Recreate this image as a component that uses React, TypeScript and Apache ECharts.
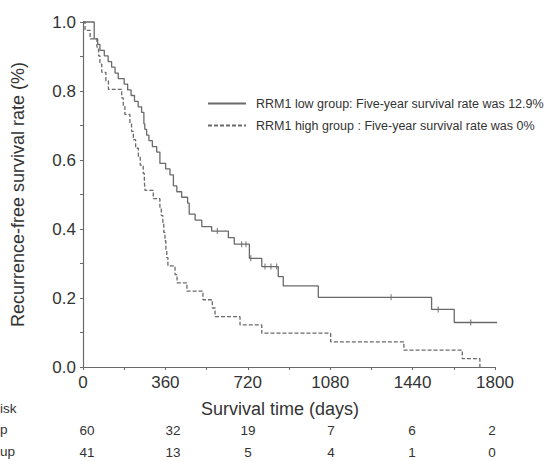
import React, { useEffect, useRef } from "react";
import * as echarts from "echarts";

const lowName = "RRM1 low group: Five-year survival rate was 12.9%";
const highName = "RRM1 high group : Five-year survival rate was 0%";

// Kaplan–Meier steps: [day, survival]
const lowSteps: [number, number][] = [
  [0, 1], [49, 0.951], [64, 0.935], [74, 0.918], [93, 0.902], [110, 0.885], [125, 0.869],
  [140, 0.852], [154, 0.836], [180, 0.82], [195, 0.803], [210, 0.787], [225, 0.77],
  [241, 0.754], [256, 0.738], [266, 0.705], [270, 0.689], [278, 0.672], [288, 0.656],
  [303, 0.639], [322, 0.623], [336, 0.59], [361, 0.574], [380, 0.557], [395, 0.525],
  [410, 0.508], [431, 0.492], [457, 0.475], [464, 0.443], [490, 0.426], [519, 0.407],
  [562, 0.394], [635, 0.375], [661, 0.356], [727, 0.315], [781, 0.291], [853, 0.262],
  [875, 0.235], [1028, 0.202], [1523, 0.167], [1622, 0.129], [1848, 0.129],
];
const lowCensored: [number, number][] = [
  [587, 0.394], [693, 0.356], [712, 0.356], [733, 0.315], [795, 0.291], [821, 0.291],
  [846, 0.291], [1346, 0.202], [1552, 0.167], [1694, 0.129],
];
const highSteps: [number, number][] = [
  [0, 1], [9, 0.976], [31, 0.951], [61, 0.927], [68, 0.902], [74, 0.878], [82, 0.854],
  [100, 0.829], [111, 0.805], [169, 0.78], [176, 0.756], [183, 0.732], [205, 0.707],
  [212, 0.683], [220, 0.659], [230, 0.634], [242, 0.61], [250, 0.585], [263, 0.561],
  [268, 0.537], [271, 0.512], [307, 0.488], [336, 0.463], [342, 0.439], [349, 0.415],
  [353, 0.39], [358, 0.366], [362, 0.341], [366, 0.317], [371, 0.293], [402, 0.268],
  [411, 0.244], [454, 0.22], [524, 0.195], [565, 0.171], [577, 0.146], [686, 0.122],
  [781, 0.098], [1082, 0.073], [1402, 0.049], [1657, 0.024], [1734, 0],
];

const riskLowLabel = "p";
const riskHighLabel = "up";
const riskHeader = "isk";
const riskLow = ["60", "32", "19", "7", "6", "2"];
const riskHigh = ["41", "13", "5", "4", "1", "0"];

const xTitle = "Survival time (days)";
const yTitle = "Recurrence-free survival rate (%)";

// layout (not data)
const riskColX = [87, 173, 248, 331, 412, 492];
const FONT = "Liberation Sans, Arial, sans-serif";
const LINE = "#6a6a6a";
const TEXT = "#333";

export default function App() {
  const ref = useRef<HTMLDivElement>(null);
  useEffect(() => {
    if (!ref.current) return;
    const chart = echarts.init(ref.current, null, { renderer: "svg" });
    const graphics: any[] = [];
    const rowY = [409, 430, 452];
    const f = `13.5px ${FONT}`;
    graphics.push({ type: "text", left: 0, top: rowY[0] - 8, style: { text: riskHeader, font: f, fill: TEXT } });
    graphics.push({ type: "text", left: 0, top: rowY[1] - 8, style: { text: riskLowLabel, font: f, fill: TEXT } });
    graphics.push({ type: "text", left: 0, top: rowY[2] - 8, style: { text: riskHighLabel, font: f, fill: TEXT } });
    riskLow.forEach((t, i) => {
      graphics.push({ type: "text", x: riskColX[i], y: rowY[1], style: { text: t, font: f, fill: TEXT, align: "center", verticalAlign: "middle" } });
    });
    riskHigh.forEach((t, i) => {
      graphics.push({ type: "text", x: riskColX[i], y: rowY[2], style: { text: t, font: f, fill: TEXT, align: "center", verticalAlign: "middle" } });
    });

    chart.setOption({
      animation: false,
      backgroundColor: "#fff",
      grid: { left: 83, right: 60, top: 22, bottom: 94, containLabel: false },
      legend: {
        data: [lowName, highName],
        orient: "vertical",
        left: 202,
        top: 92,
        itemWidth: 38,
        itemHeight: 14,
        itemGap: 9,
        itemStyle: { opacity: 0 },
        textStyle: { fontFamily: FONT, fontSize: 12.5, color: TEXT, padding: [0, 0, 0, 5] },
      },
      xAxis: {
        type: "value",
        min: 0,
        max: 1800,
        interval: 360,
        name: xTitle,
        nameLocation: "middle",
        nameGap: 33,
        nameTextStyle: { fontFamily: FONT, fontSize: 18, color: TEXT, padding: [0, 18, 0, 0] },
        axisLine: { show: true, lineStyle: { color: LINE, width: 1.2 } },
        axisTick: { show: true, inside: false, length: 3, lineStyle: { color: LINE } },
        minorTick: { show: true, splitNumber: 2, length: 3, lineStyle: { color: LINE } },
        axisLabel: { fontFamily: FONT, fontSize: 17, color: TEXT, margin: 7, formatter: (v: number) => String(v) },
        splitLine: { show: false },
      },
      yAxis: {
        type: "value",
        min: 0,
        max: 1,
        interval: 0.2,
        name: yTitle,
        nameLocation: "middle",
        nameGap: 56,
        nameTextStyle: { fontFamily: FONT, fontSize: 18, color: TEXT },
        axisLine: { show: true, lineStyle: { color: LINE, width: 1.2 } },
        axisTick: { show: true, inside: false, length: 3, lineStyle: { color: LINE } },
        minorTick: { show: true, splitNumber: 2, length: 3, lineStyle: { color: LINE } },
        axisLabel: { fontFamily: FONT, fontSize: 17, color: TEXT, margin: 7, formatter: (v: number) => v.toFixed(1) },
        splitLine: { show: false },
      },
      series: [
        {
          name: lowName,
          type: "line",
          step: "end",
          data: lowSteps,
          symbol: "none",
          clip: false,
          lineStyle: { color: LINE, width: 1.3, type: "solid" },
          itemStyle: { color: LINE },
        },
        {
          name: highName,
          type: "line",
          step: "end",
          data: highSteps,
          symbol: "none",
          clip: false,
          lineStyle: { color: LINE, width: 1.3, type: [4, 2] },
          itemStyle: { color: LINE },
        },
        {
          name: "censored",
          type: "scatter",
          data: lowCensored,
          symbol: "rect",
          symbolSize: [1.2, 6],
          itemStyle: { color: LINE },
          clip: false,
        },
      ],
      graphic: graphics,
    });
    return () => chart.dispose();
  }, []);
  return <div ref={ref} style={{ width: 555, height: 461, position: "absolute", left: 0, top: 0 }} />;
}
